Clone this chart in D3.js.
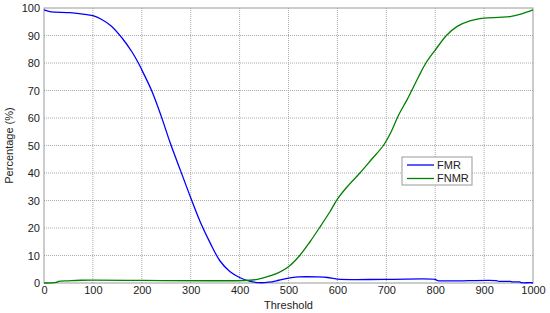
<!DOCTYPE html>
<html>
<head>
<meta charset="utf-8">
<script src="https://cdn.jsdelivr.net/npm/d3@7"></script>
<style>
  html, body { margin: 0; padding: 0; background: #fff; overflow: hidden; }
  svg { display: block; font-family: "Liberation Sans", Arial, sans-serif; }
</style>
</head>
<body>
<svg class="chart"></svg>
<script>
// threshold / percentage pairs
const fmrThreshold = [0, 12, 53, 80, 100, 118, 138, 160, 180, 193, 200, 220, 240, 258, 280, 300, 320, 340, 360, 380, 400, 420, 440, 460, 480, 500, 520, 560, 580, 600, 700, 800, 805, 925, 930, 953, 958, 972, 977, 995, 1000];
const fmrValues = [99.3, 98.7, 98.3, 97.8, 97.2, 95.8, 93.4, 89.0, 84.0, 80, 77.5, 70, 60.5, 51, 40.5, 31, 22, 14.5, 8, 4.2, 2.0, 0.7, 0.1, 0.3, 1.0, 1.8, 2.2, 2.2, 2.0, 1.4, 1.3, 1.3, 0.9, 0.9, 0.6, 0.6, 0.4, 0.4, 0.1, 0.1, 0];

const fnmrThreshold = [0, 25, 30, 50, 75, 420, 440, 460, 480, 500, 523, 544, 563, 585, 600, 620, 646, 670, 694, 710, 725, 742, 752, 766, 781, 800, 823, 845, 871, 900, 930, 953, 975, 1000];
const fnmrValues = [0, 0.2, 0.6, 0.8, 1.0, 1.0, 1.5, 2.5, 3.8, 5.9, 10, 15, 20, 26, 30.5, 35, 40, 45, 50, 55, 61, 66.5, 70, 75, 80, 84.7, 90, 93.3, 95.3, 96.3, 96.6, 96.9, 97.8, 99.3];

const seriesNames = ['FMR', 'FNMR'];
const seriesColors = ['#0000ff', '#008000'];
const xTicks = [0, 100, 200, 300, 400, 500, 600, 700, 800, 900, 1000];
const yTicks = [0, 10, 20, 30, 40, 50, 60, 70, 80, 90, 100];

const width = 550;
const height = 313;
const margin = { top: 8, right: 17, bottom: 30, left: 44 };
const innerWidth = width - margin.left - margin.right;
const innerHeight = height - margin.top - margin.bottom;

const svg = d3.select('.chart')
  .attr('width', width)
  .attr('height', height);

const g = svg.append('g')
  .attr('transform', `translate(${margin.left}, ${margin.top})`);

const x = d3.scaleLinear().domain([0, 1000]).range([0, innerWidth]);
const y = d3.scaleLinear().domain([0, 100]).range([innerHeight, 0]);

// dotted grid
g.selectAll('.vgrid')
  .data(xTicks.slice(1, -1))
  .enter()
  .append('line')
  .attr('x1', d => x(d)).attr('x2', d => x(d))
  .attr('y1', 0).attr('y2', innerHeight)
  .attr('stroke', '#aaa')
  .attr('stroke-dasharray', '1,1');

g.selectAll('.hgrid')
  .data(yTicks.slice(1, -1))
  .enter()
  .append('line')
  .attr('x1', 0).attr('x2', innerWidth)
  .attr('y1', d => y(d)).attr('y2', d => y(d))
  .attr('stroke', '#aaa')
  .attr('stroke-dasharray', '1,1');

// axes
const xAxis = g.append('g')
  .attr('transform', `translate(0, ${innerHeight})`)
  .call(d3.axisBottom(x).tickValues(xTicks).tickFormat(d3.format('d')).tickSize(0).tickPadding(3));
const yAxis = g.append('g')
  .call(d3.axisLeft(y).tickValues(yTicks).tickFormat(d3.format('d')).tickSize(0).tickPadding(4));

[xAxis, yAxis].forEach(a => {
  a.select('.domain').remove();
  a.selectAll('text').attr('font-size', '11px').attr('fill', '#222')
    .attr('font-family', '"Liberation Sans", Arial, sans-serif');
});

// box
g.append('rect')
  .attr('width', innerWidth)
  .attr('height', innerHeight)
  .attr('fill', 'none')
  .attr('stroke', '#999')
  .attr('stroke-width', 1);

const line = d3.line()
  .x(d => x(d[0]))
  .y(d => y(d[1]))
  .curve(d3.curveCatmullRom.alpha(0.5));

const series = [
  d3.zip(fmrThreshold, fmrValues),
  d3.zip(fnmrThreshold, fnmrValues)
];

g.selectAll('.series')
  .data(series)
  .enter()
  .append('path')
  .attr('d', line)
  .attr('fill', 'none')
  .attr('stroke', (d, i) => seriesColors[i])
  .attr('stroke-width', 1.3);

// labels
svg.append('text')
  .text('Threshold')
  .attr('x', margin.left + innerWidth / 2)
  .attr('y', 309)
  .attr('text-anchor', 'middle')
  .attr('font-size', '11px')
  .attr('fill', '#222');

svg.append('text')
  .text('Percentage (%)')
  .attr('transform', `translate(13, ${margin.top + innerHeight / 2}) rotate(-90)`)
  .attr('text-anchor', 'middle')
  .attr('font-size', '11px')
  .attr('fill', '#222');

// legend
const legend = svg.append('g').attr('transform', 'translate(402, 157)');
legend.append('rect')
  .attr('width', 70)
  .attr('height', 28)
  .attr('fill', '#fff')
  .attr('stroke', '#999');

const items = legend.selectAll('.item')
  .data(seriesNames)
  .enter()
  .append('g')
  .attr('transform', (d, i) => `translate(0, ${8 + i * 13.5})`);

items.append('line')
  .attr('x1', 5).attr('x2', 32)
  .attr('stroke', (d, i) => seriesColors[i])
  .attr('stroke-width', 1.3);

items.append('text')
  .text(d => d)
  .attr('x', 35)
  .attr('dy', '0.35em')
  .attr('font-size', '11px')
  .attr('fill', '#222');
</script>
</body>
</html>
